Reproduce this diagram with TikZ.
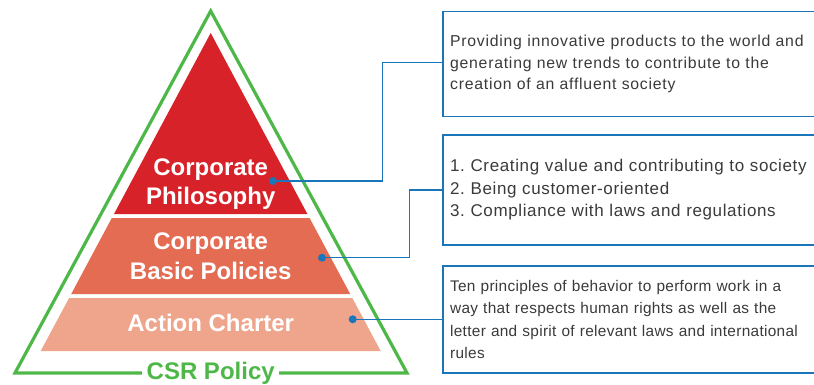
\documentclass[tikz,border=0pt]{standalone}
\usepackage{fontspec}
\setmainfont{Liberation Sans}
\definecolor{csrgreen}{HTML}{4DB848}
\definecolor{tierred}{HTML}{D8222A}
\definecolor{tiercoral}{HTML}{E36C53}
\definecolor{tiersalmon}{HTML}{EEA58B}
\definecolor{linkblue}{HTML}{1B75BB}
\definecolor{textgray}{HTML}{3A3A3A}
\tikzset{
  tier/.style={font=\bfseries\fontsize{24}{29.5}\selectfont, text=white, align=center},
  policybox/.style={draw=linkblue, line width=1.8pt, anchor=west, text width=380pt,
    inner xsep=7.5pt, minimum height=#1, align=left, text=textgray},
  link/.style={draw=linkblue, line width=1.4pt},
  dot/.style={circle, fill=linkblue, inner sep=0pt, minimum size=8pt}
}

\begin{document}
\frenchspacing
\begin{tikzpicture}[x=1pt,y=-1pt]
\useasboundingbox (0,0) rectangle (814,385);
\clip (0,0) rectangle (814,385);
\draw[csrgreen, line width=3.2pt] (210.7,11) -- (407,373) -- (15,373) -- cycle;
\fill[tierred] (210.7,33) -- (307.4,214) -- (114,214) -- cycle;
\fill[tiercoral] (111.8,218) -- (309.6,218) -- (350.2,294) -- (71.2,294) -- cycle;
\fill[tiersalmon] (69.1,298) -- (352.3,298) -- (380.7,351) -- (40.7,351) -- cycle;

\node[tier] (philosophy) at (210.7,184) {Corporate\\Philosophy};
\node[tier] (basic) at (210.7,256) {Corporate\\Basic Policies};
\node[tier] (charter) at (210.7,323) {Action Charter};
\node[font=\bfseries\fontsize{24}{28}\selectfont, text=csrgreen, fill=white,
  inner xsep=4.5pt, inner ysep=1pt] (csr) at (210.7,373) {CSR Policy};

\node[policybox=105pt, font=\addfontfeature{LetterSpace=4.8}\fontsize{15.8}{21.6}\selectfont] (box1) at (441.7,64) {Providing innovative products to the world and\\generating new trends to contribute to the\\creation of an affluent society};
\node[policybox=110pt, font=\addfontfeature{LetterSpace=3.7}\fontsize{17}{22.5}\selectfont] (box2) at (441.7,190) {1. Creating value and contributing to society\\2. Being customer-oriented\\3. Compliance with laws and regulations};
\node[policybox=107pt, font=\addfontfeature{LetterSpace=2}\fontsize{15.4}{22.2}\selectfont] (box3) at (441.7,319.5) {Ten principles of behavior to perform work in a\\way that respects human rights as well as the\\letter and spirit of relevant laws and international\\rules};

\node[dot] (dot1) at (273,181) {};
\node[dot] (dot2) at (322,257.7) {};
\node[dot] (dot3) at (352.7,319.3) {};
\coordinate (bend1) at (382.7,62.5);
\coordinate (bend2) at (409.3,190);

\draw[link] (dot1.center) -| (bend1) -- (bend1 -| box1.west);
\draw[link] (dot2.center) -| (bend2) -- (box2.west);
\draw[link] (dot3.center) -- (dot3.center -| box3.west);
\end{tikzpicture}
\end{document}
